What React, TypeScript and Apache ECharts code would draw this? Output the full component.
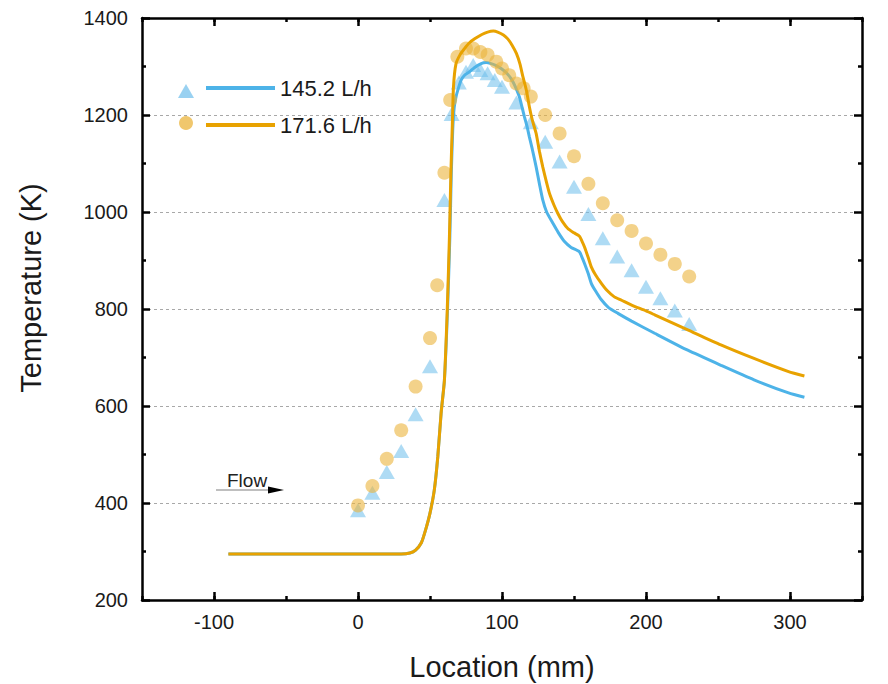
import React, { useEffect, useRef } from "react";
import * as echarts from "echarts";

// ---- data ----
const xTickValues = [-100, 0, 100, 200, 300];

// experimental points, 145.2 L/h (triangles)
const triX = [0, 10, 20, 30, 40, 50, 60, 65, 70, 75, 80, 85, 90, 95, 100, 110, 120, 130, 140, 150, 160, 170, 180, 190, 200, 210, 220, 230];
const triT = [385, 421, 464, 507, 583, 682, 1025, 1202, 1267, 1289, 1303, 1293, 1286, 1272, 1258, 1226, 1185, 1145, 1104, 1052, 996, 946, 908, 880, 846, 822, 797, 769];

// experimental points, 171.6 L/h (circles)
const circX = [0, 10, 20, 30, 40, 50, 55, 60, 64, 69, 75, 80, 85, 90, 96, 100, 105, 110, 115, 120, 130, 140, 150, 160, 170, 180, 190, 200, 210, 220, 230];
const circT = [395, 435, 491, 550, 640, 740, 849, 1081, 1231, 1320, 1337, 1337, 1330, 1324, 1310, 1296, 1282, 1265, 1255, 1238, 1200, 1162, 1115, 1058, 1018, 983, 961, 935, 912, 893, 867];

// simulation, 145.2 L/h (blue line)
const blueX = [-90, 0, 30, 36, 40, 44, 47, 50, 53, 55.4, 57.7, 60, 62.2, 63.8, 64.8, 65.8, 66.8, 68.1, 70, 71.6, 74, 77.4, 81, 85.5, 89, 92.4, 96, 99.4, 103, 106.3, 109, 112, 114, 115.6, 117.5, 119, 121, 123.7, 126, 128.3, 131, 135.3, 139, 143.4, 148, 153.8, 155.5, 157.3, 160, 162, 165, 169, 174, 180.5, 190, 206, 229, 252, 275, 299, 310];
const blueT = [295, 295, 295, 297, 303, 318, 345, 379, 427, 495, 585, 653, 800, 950, 1080, 1170, 1215, 1238, 1258, 1272, 1282, 1289, 1298, 1306, 1308, 1306, 1302, 1296, 1287, 1275, 1260, 1238, 1215, 1196, 1175, 1155, 1130, 1093, 1058, 1025, 1000, 977, 958, 939, 927, 918, 907, 894, 872, 853, 837, 819, 803, 791, 775, 750, 715, 684, 654, 627, 618];

// simulation, 171.6 L/h (orange line)
const orangeX = [-90, 0, 30, 36, 40, 44, 47, 50, 53, 55.4, 57.7, 60, 62, 63.5, 64.5, 65.5, 66.3, 68, 71, 74, 77, 81, 86, 90, 94, 97, 101, 104, 107, 110, 112.5, 114.5, 117, 119, 121, 123.7, 126, 128.3, 131, 133, 136, 138.8, 142, 145.7, 150, 153.8, 155.5, 157.3, 160, 162, 165, 169, 173, 178, 183, 190, 200, 206, 229, 252, 275, 299, 310];
const orangeT = [295, 295, 295, 297, 303, 318, 345, 379, 427, 495, 585, 653, 800, 950, 1080, 1180, 1258, 1305, 1325, 1337, 1348, 1357, 1366, 1371, 1373, 1371, 1365, 1357, 1344, 1327, 1305, 1279, 1250, 1217, 1190, 1162, 1125, 1093, 1060, 1038, 1015, 997, 980, 966, 957, 950, 940, 928, 905, 887, 870, 853, 838, 825, 818, 808, 796, 788, 757, 726, 698, 671, 662];

const seriesNames = ["145.2 L/h", "171.6 L/h"];

const zip = (xs: number[], ys: number[]) => xs.map((x, i) => [x, ys[i]]);

const FONT = "Liberation Sans, Arial, sans-serif";
const BLUE = "#4DB3E8";
const ORANGE = "#E8A200";
const TRI = "rgba(110,190,235,0.7)";
const CIRC = "rgba(235,180,60,0.75)";
const TEXT = "#1a1a1a";

export default function App() {
  const ref = useRef<HTMLDivElement>(null);

  useEffect(() => {
    if (!ref.current) return;
    const chart = echarts.init(ref.current, undefined, { renderer: "svg" });

    const plain = (v: number) => String(v);
    const axisLine = { show: true, onZero: false, lineStyle: { color: "#000", width: 2.5 } };
    const minorTickAxis = (pos: string) => ({
      type: "value",
      position: pos,
      min: -150,
      max: 350,
      interval: 50,
      axisLine,
      axisTick: { show: true, inside: true, length: 4, lineStyle: { color: "#000", width: 2.5 } },
      axisLabel: { show: false },
      splitLine: { show: false },
    });
    const majorTickAxis = (pos: string, labels: boolean) => ({
      type: "value",
      position: pos,
      min: -150,
      max: 350,
      axisLine: { show: false, onZero: false },
      axisTick: { show: true, inside: true, length: 8, customValues: xTickValues, lineStyle: { color: "#000", width: 2.5 } },
      axisLabel: labels
        ? { show: true, customValues: xTickValues, formatter: plain, fontSize: 20, margin: 12, color: TEXT, fontFamily: FONT }
        : { show: false },
      splitLine: { show: false },
      ...(labels
        ? {
            name: "Location (mm)",
            nameLocation: "middle",
            nameGap: 52,
            nameTextStyle: { fontSize: 29, color: TEXT, fontFamily: FONT },
          }
        : {}),
    });

    const yAxisBase = (pos: string, labels: boolean) => ({
      type: "value",
      position: pos,
      min: 200,
      max: 1400,
      interval: 200,
      axisLine,
      axisTick: { show: true, inside: true, length: 8, lineStyle: { color: "#000", width: 2.5 } },
      minorTick: { show: true, splitNumber: 2, length: 4, lineStyle: { color: "#000", width: 2.5 } },
      axisLabel: labels
        ? { show: true, formatter: plain, fontSize: 20, margin: 14, color: TEXT, fontFamily: FONT }
        : { show: false },
      splitLine: labels
        ? { show: true, lineStyle: { color: "#a8a8a8", width: 1, type: [3, 3] } }
        : { show: false },
      minorSplitLine: { show: false },
    });

    const legendCommon = {
      left: 206,
      orient: "vertical",
      itemWidth: 69,
      itemHeight: 4,
      itemGap: 0,
      padding: 0,
      selectedMode: false,
      textStyle: { fontSize: 22, color: TEXT, fontFamily: FONT, lineHeight: 24 },
    };

    const option: any = {
      animation: false,
      backgroundColor: "#fff",
      textStyle: { fontFamily: FONT },
      grid: { left: 142, right: 26, top: 18, bottom: 84, containLabel: false, outerBoundsMode: "none" },
      legend: [
        { ...legendCommon, top: 76, data: [{ name: seriesNames[0], icon: "rect" }] },
        { ...legendCommon, top: 113, data: [{ name: seriesNames[1], icon: "rect" }] },
      ],
      xAxis: [
        minorTickAxis("bottom"),
        majorTickAxis("bottom", true),
        minorTickAxis("top"),
        majorTickAxis("top", false),
      ],
      yAxis: [yAxisBase("left", true), yAxisBase("right", false)],
      graphic: [
        {
          type: "text",
          x: 31,
          y: 288,
          rotation: Math.PI / 2,
          style: {
            text: "Temperature (K)",
            fontSize: 29,
            fontFamily: FONT,
            fill: TEXT,
            textAlign: "center",
            textVerticalAlign: "middle",
          },
        },
        {
          type: "polygon",
          shape: { points: [[178, 98], [194, 98], [186, 84]] },
          style: { fill: TRI },
        },
        {
          type: "circle",
          shape: { cx: 186, cy: 123, r: 7 },
          style: { fill: CIRC },
        },
        {
          type: "line",
          shape: { x1: 216, y1: 490, x2: 272, y2: 490 },
          style: { stroke: "#808080", lineWidth: 1.2 },
        },
        {
          type: "polygon",
          shape: { points: [[268, 486.5], [284, 490], [268, 493.5]] },
          style: { fill: "#000" },
        },
        {
          type: "text",
          x: 227,
          y: 480,
          style: {
            text: "Flow",
            fontSize: 19,
            fontFamily: FONT,
            fill: "#222",
            textAlign: "left",
            textVerticalAlign: "middle",
          },
        },
      ],
      series: [
        {
          name: "exp " + seriesNames[0],
          type: "scatter",
          symbol: "triangle",
          symbolSize: [16, 14],
          itemStyle: { color: TRI },
          data: zip(triX, triT),
          z: 2,
        },
        {
          name: seriesNames[0],
          type: "line",
          showSymbol: false,
          smooth: 0.2,
          color: BLUE,
          lineStyle: { color: BLUE, width: 3 },
          itemStyle: { color: BLUE },
          data: zip(blueX, blueT),
          z: 3,
        },
        {
          name: "exp " + seriesNames[1],
          type: "scatter",
          symbol: "circle",
          symbolSize: 14,
          itemStyle: { color: CIRC },
          data: zip(circX, circT),
          z: 4,
        },
        {
          name: seriesNames[1],
          type: "line",
          showSymbol: false,
          smooth: 0.2,
          color: ORANGE,
          lineStyle: { color: ORANGE, width: 3 },
          itemStyle: { color: ORANGE },
          data: zip(orangeX, orangeT),
          z: 5,
        },
      ],
    };

    chart.setOption(option);
    return () => chart.dispose();
  }, []);

  return (
    <div
      ref={ref}
      style={{ position: "fixed", left: 0, top: 0, width: 888, height: 684, background: "#fff" }}
    />
  );
}
